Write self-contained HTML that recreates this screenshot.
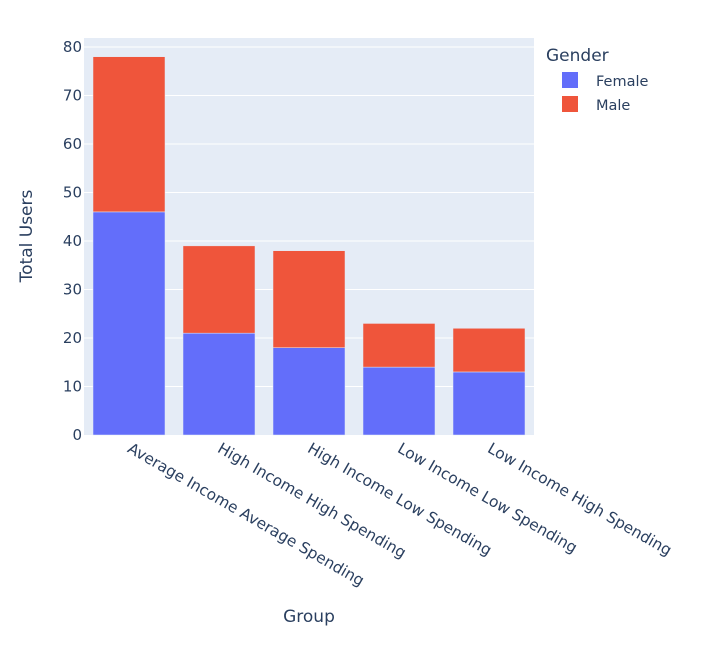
<!DOCTYPE html>
<html><head><meta charset="utf-8"><style>
body{margin:0;background:#fff;}
svg text{font-family:"DejaVu Sans","Liberation Sans",sans-serif;fill:#2a3f5f;}
</style></head><body>
<svg id="chart" width="724" height="640" xmlns="http://www.w3.org/2000/svg">
<rect x="0" y="0" width="724" height="640" fill="#fff"/>
<rect x="84" y="38" width="450" height="397" fill="#e5ecf6"/>
<g id="grid"></g>
<g id="bars"></g>
<g id="yticks"></g>
<g id="xticks"></g>
<text x="32" y="236" font-size="17" text-anchor="middle" transform="rotate(-90 32 236)">Total Users</text>
<text x="309" y="622" font-size="17" text-anchor="middle">Group</text>
<g>
<text x="546" y="61" font-size="17">Gender</text>
<g>
<rect x="562" y="72" width="16" height="16" fill="#636efa"/>
<text x="596" y="86" font-size="14.5">Female</text></g>
<g>
<rect x="562" y="96" width="16" height="16" fill="#ef553b"/>
<text x="596" y="110" font-size="14.5">Male</text></g>
</g>
</svg>
<script>
const categories=["Average Income Average Spending","High Income High Spending","High Income Low Spending","Low Income Low Spending","Low Income High Spending"];
const female=[46,21,18,14,13];
const male=[32,18,20,9,9];
const yTicks=[0,10,20,30,40,50,60,70,80];
const NS="http://www.w3.org/2000/svg";
const X0=84,X1=534,Y0=435,PX=4.85;
function y(v){return Y0-v*PX;}
const band=(X1-X0)/categories.length;
function xc(i){return X0+band*(i+0.5);}
function mk(tag,attrs,parent){const e=document.createElementNS(NS,tag);for(const k in attrs)e.setAttribute(k,attrs[k]);document.getElementById(parent).appendChild(e);return e;}
yTicks.forEach(t=>{
  if(t>0){const l=mk('line',{x1:X0,x2:X1,y1:y(t),y2:y(t),stroke:'#fff','stroke-width':1},'grid');
  
  }
  const tx=mk('text',{x:X0-2,y:y(t)+5,'font-size':15,'text-anchor':'end'},'yticks');
  tx.textContent=t;
  
  
});
const bw=band*0.8;
categories.forEach((c,i)=>{
  const f=mk('rect',{x:xc(i)-bw/2,y:y(female[i]),width:bw,height:female[i]*PX,fill:'#636efa',stroke:'#e5ecf6','stroke-width':0.5},'bars');
  
  
  const m=mk('rect',{x:xc(i)-bw/2,y:y(female[i]+male[i]),width:bw,height:male[i]*PX,fill:'#ef553b',stroke:'#e5ecf6','stroke-width':0.5},'bars');
  
  
  const tx=mk('text',{x:xc(i),y:Y0+17,'font-size':15.4,transform:'rotate(30 '+xc(i)+' '+(Y0+12)+')'},'xticks');
  tx.textContent=c;
  
  
});
</script>
</body></html>
